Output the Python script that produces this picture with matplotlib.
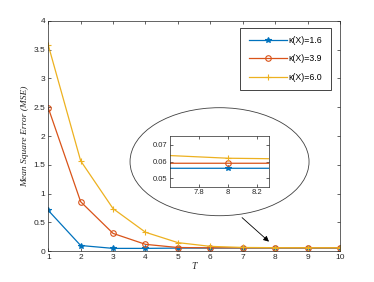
import matplotlib
matplotlib.use("Agg")
import matplotlib.pyplot as plt
from matplotlib.patches import Ellipse
import numpy as np

# data
T = [1, 2, 3, 4, 5, 6, 7, 8, 9, 10]
mse_16 = [0.71, 0.10, 0.05, 0.05, 0.055, 0.055, 0.056, 0.056, 0.056, 0.056]
mse_39 = [2.49, 0.86, 0.31, 0.12, 0.065, 0.06, 0.059, 0.059, 0.059, 0.059]
mse_60 = [3.58, 1.57, 0.74, 0.33, 0.15, 0.085, 0.066, 0.062, 0.061, 0.061]
labels = ['κ(X)=1.6', 'κ(X)=3.9', 'κ(X)=6.0']
colors = ['#0072BD', '#D95319', '#EDB120']
markers = ['*', 'o', '+']

plt.rcParams['font.family'] = ['Liberation Sans', 'DejaVu Sans']
axcol = '#262626'

fig = plt.figure(figsize=(3.74, 2.82), dpi=100)
ax = fig.add_axes([0.129, 0.109, 0.780, 0.817])

series = [mse_16, mse_39, mse_60]
for y, lab, c, m in zip(series, labels, colors, markers):
    ax.plot(T, y, color=c, marker=m, markersize=4, markerfacecolor='none' if m == 'o' else c,
            markeredgewidth=0.8, linewidth=0.9, label=lab)

ax.set_xlim(1, 10)
ax.set_ylim(0, 4)
ax.set_xticks(range(1, 11))
ax.set_yticks(np.arange(0, 4.01, 0.5))
ax.set_yticklabels(['0', '0.5', '1', '1.5', '2', '2.5', '3', '3.5', '4'])
ax.tick_params(direction='in', top=True, right=True, labelsize=6, length=2.5,
               width=0.5, colors=axcol, pad=2)
for s in ax.spines.values():
    s.set_color(axcol)
    s.set_linewidth(0.5)
ax.set_xlabel('T', fontfamily='Liberation Serif', fontstyle='italic', fontsize=7,
              color=axcol, labelpad=1)
ax.set_ylabel('Mean Square Error (MSE)', fontfamily='Liberation Serif', fontstyle='italic',
              fontsize=6.8, color=axcol, labelpad=3)

leg = ax.legend(loc='upper right', bbox_to_anchor=(0.969, 0.971), fontsize=6.3, fancybox=False,
                edgecolor=axcol, framealpha=1, handlelength=4.3, labelspacing=1.05,
                borderpad=1.0, handletextpad=0.2, borderaxespad=0)
leg.get_frame().set_linewidth(0.6)

# ellipse around the zoom
ell = Ellipse((0.587, 0.4266), 0.4786, 0.383, transform=fig.transFigure,
              facecolor='none', edgecolor='#404040', linewidth=0.6)
fig.patches.append(ell)

ax.annotate('', xy=(7.81, 0.167), xytext=(6.98, 0.584),
            arrowprops=dict(arrowstyle='-|>', color='black', lw=0.6,
                            mutation_scale=8, shrinkA=0, shrinkB=0))

# inset
ins = fig.add_axes([0.4545, 0.338, 0.2647, 0.181])
for y, c, m in zip(series, colors, markers):
    ins.plot(T, y, color=c, marker=m, markersize=4, markerfacecolor='none' if m == 'o' else c,
             markeredgewidth=0.8, linewidth=0.9)
ins.set_xlim(7.6, 8.28)
ins.set_ylim(0.045, 0.0755)
ins.set_xticks([7.8, 8, 8.2])
ins.set_xticklabels(['7.8', '8', '8.2'])
ins.set_yticks([0.05, 0.06, 0.07])
ins.tick_params(direction='in', top=True, right=True, labelsize=5.5, length=2,
                width=0.5, colors=axcol, pad=2)
for s in ins.spines.values():
    s.set_color(axcol)
    s.set_linewidth(0.5)

fig.savefig('out.png', dpi=100)
